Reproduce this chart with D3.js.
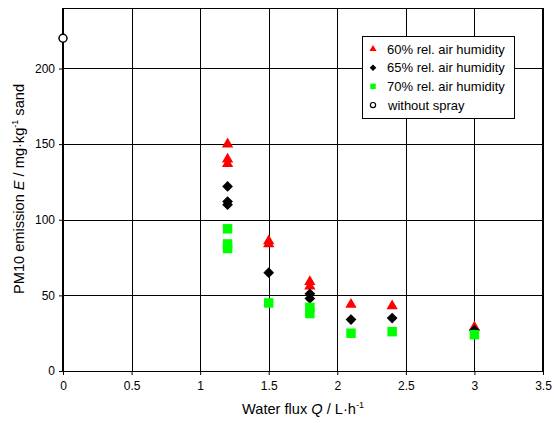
<!DOCTYPE html>
<html>
<head>
<meta charset="utf-8">
<script src="https://cdn.jsdelivr.net/npm/d3@7"></script>
<style>
  body { margin: 0; background: #fff; }
  svg { display: block; font-family: "Liberation Sans", Arial, sans-serif; }
</style>
</head>
<body>
<div id="chart"></div>
<script>
// water flux Q (L/h) and PM10 emission E (mg/kg sand) per humidity series
var flux60 = [1.2, 1.2, 1.2, 1.5, 1.5, 1.8, 1.8, 2.1, 2.4, 3.0];
var emis60 = [150, 140, 137, 86, 84, 59, 56, 44, 43, 29];
var flux65 = [1.2, 1.2, 1.2, 1.5, 1.8, 1.8, 2.1, 2.4, 3.0];
var emis65 = [122, 112, 110, 65, 51, 48, 34, 35, 27];
var flux70 = [1.2, 1.2, 1.2, 1.5, 1.8, 1.8, 2.1, 2.4, 3.0];
var emis70 = [94, 84, 81, 45, 42, 38, 25, 26, 24];
var fluxNoSpray = [0];
var emisNoSpray = [220];

var xTicks = [0, 0.5, 1, 1.5, 2, 2.5, 3, 3.5];
var yTicks = [0, 50, 100, 150, 200];
var seriesNames = ["60% rel. air humidity", "65% rel. air humidity", "70% rel. air humidity", "without spray"];

var w = 554, h = 423,
    m = [8, 11, 52, 63]; // top right bottom left

var svg = d3.select("#chart").append("svg")
    .attr("width", w)
    .attr("height", h);

var x = d3.scaleLinear().domain([0, 3.5]).range([m[3], w - m[1]]);
var y = d3.scaleLinear().domain([0, 240]).range([h - m[2], m[0]]);

// grid
svg.append("g").selectAll("line")
    .data(yTicks.slice(1))
    .enter().append("line")
    .attr("x1", x(0)).attr("x2", x(3.5))
    .attr("y1", function(d) { return Math.round(y(d)) + 0.5; })
    .attr("y2", function(d) { return Math.round(y(d)) + 0.5; })
    .attr("stroke", "#000").attr("stroke-width", 1);

svg.append("g").selectAll("line")
    .data(xTicks.slice(1, -1))
    .enter().append("line")
    .attr("y1", y(0)).attr("y2", y(240))
    .attr("x1", function(d) { return Math.round(x(d)) + 0.5; })
    .attr("x2", function(d) { return Math.round(x(d)) + 0.5; })
    .attr("stroke", "#000").attr("stroke-width", 1);

// frame
svg.append("line").attr("x1", x(0)).attr("x2", x(3.5))
    .attr("y1", Math.round(y(240)) + 0.5).attr("y2", Math.round(y(240)) + 0.5)
    .attr("stroke", "#000");
svg.append("line").attr("x1", Math.round(x(3.5))).attr("x2", Math.round(x(3.5)))
    .attr("y1", y(0)).attr("y2", y(240))
    .attr("stroke", "#000").attr("stroke-width", 2);

// axes
var xAxis = d3.axisBottom(x).tickValues(xTicks).tickSize(4).tickPadding(6)
    .tickFormat(function(d) { return String(d); });
var yAxis = d3.axisLeft(y).tickValues(yTicks).tickSize(4).tickPadding(4);

var gx = svg.append("g")
    .attr("transform", "translate(0," + Math.round(y(0)) + ")")
    .call(xAxis);
var gy = svg.append("g")
    .attr("transform", "translate(" + Math.round(x(0)) + ",0)")
    .call(yAxis);

[gx, gy].forEach(function(g) {
  g.select(".domain").remove();
  g.selectAll("line").attr("stroke", "#000");
  g.selectAll("text").attr("font-size", 12).attr("fill", "#000")
    .attr("font-family", "Liberation Sans, Arial, sans-serif");
});

svg.append("line").attr("x1", x(0)).attr("x2", x(3.5))
    .attr("y1", Math.round(y(0)) + 0.5).attr("y2", Math.round(y(0)) + 0.5)
    .attr("stroke", "#000");
svg.append("line").attr("x1", Math.round(x(0))).attr("x2", Math.round(x(0)))
    .attr("y1", y(0)).attr("y2", y(240))
    .attr("stroke", "#000").attr("stroke-width", 2);

// markers
var tri = d3.symbol().type(d3.symbolTriangle).size(55);
var dia = d3.symbol().type(d3.symbolSquare).size(58);
var sq = d3.symbol().type(d3.symbolSquare).size(90);

function plotSeries(xs, ys, sym, fill, rot) {
  svg.append("g").selectAll("path")
    .data(d3.zip(xs, ys))
    .enter().append("path")
    .attr("d", sym)
    .attr("fill", fill)
    .attr("transform", function(d) {
      return "translate(" + x(d[0]) + "," + y(d[1]) + ")" + (rot ? " rotate(45)" : "");
    });
}

plotSeries(flux60, emis60, tri, "#ff0000");
plotSeries(flux65, emis65, dia, "#000", true);
plotSeries(flux70, emis70, sq, "#00ff00");

svg.append("g").selectAll("circle")
    .data(d3.zip(fluxNoSpray, emisNoSpray))
    .enter().append("circle")
    .attr("cx", function(d) { return x(d[0]); })
    .attr("cy", function(d) { return y(d[1]); })
    .attr("r", 4)
    .attr("fill", "#fff")
    .attr("stroke", "#000")
    .attr("stroke-width", 1.5);

// legend
var lg = svg.append("g").attr("transform", "translate(362,36)");
lg.append("rect").attr("x", 0.5).attr("y", 0.5).attr("width", 152).attr("height", 82)
    .attr("fill", "#fff").attr("stroke", "#000");

var legendSyms = [
  { sym: d3.symbol().type(d3.symbolTriangle).size(22), fill: "#ff0000" },
  { sym: d3.symbol().type(d3.symbolSquare).size(22), fill: "#000", rot: true },
  { sym: d3.symbol().type(d3.symbolSquare).size(30), fill: "#00ff00" },
  { circle: true }
];

seriesNames.forEach(function(name, i) {
  var ly = 13 + i * 18.7;
  var s = legendSyms[i];
  if (s.circle) {
    lg.append("circle").attr("cx", 11).attr("cy", ly).attr("r", 2.6)
      .attr("fill", "#fff").attr("stroke", "#000").attr("stroke-width", 1.2);
  } else {
    lg.append("path").attr("d", s.sym).attr("fill", s.fill)
      .attr("transform", "translate(11," + ly + ")" + (s.rot ? " rotate(45)" : ""));
  }
  lg.append("text")
    .attr("x", i === 3 ? 26 : 25).attr("y", ly)
    .attr("dy", "0.35em")
    .attr("font-size", 13)
    .text(name);
});

// axis titles
var xt = svg.append("text")
    .attr("x", 303).attr("y", 414)
    .attr("text-anchor", "middle")
    .attr("font-size", 14.6);
xt.append("tspan").text("Water flux ");
xt.append("tspan").attr("font-style", "italic").text("Q");
xt.append("tspan").text(" / L\u00b7h");
xt.append("tspan").attr("font-size", 9).attr("dy", -6).text("-1");

var yt = svg.append("text")
    .attr("transform", "translate(24,189) rotate(-90)")
    .attr("text-anchor", "middle")
    .attr("font-size", 14.6);
yt.append("tspan").text("PM10 emission ");
yt.append("tspan").attr("font-style", "italic").text("E");
yt.append("tspan").text(" / mg\u00b7kg");
yt.append("tspan").attr("font-size", 9).attr("dy", -6).text("-1");
yt.append("tspan").attr("dy", 6).text(" sand");
</script>
</body>
</html>
